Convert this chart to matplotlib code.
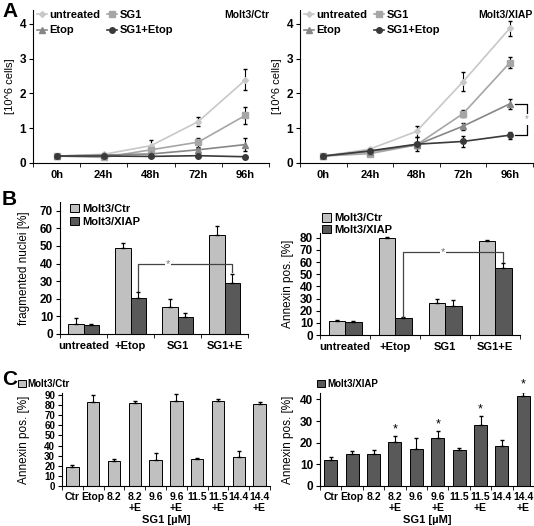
import matplotlib
matplotlib.use("Agg")
import matplotlib.pyplot as plt
from matplotlib.lines import Line2D
import numpy as np

plt.rcParams['font.family'] = ['Liberation Sans', 'DejaVu Sans']
plt.rcParams['font.size'] = 8

W, H = 534, 526

# ---- panel A: growth curves ----
times = ['0h', '24h', '48h', '72h', '96h']
series = ['untreated', 'SG1', 'Etop', 'SG1+Etop']
ctr_vals = [[0.20, 0.25, 0.50, 1.19, 2.39],
            [0.20, 0.16, 0.38, 0.60, 1.37],
            [0.20, 0.23, 0.26, 0.38, 0.53],
            [0.20, 0.20, 0.19, 0.21, 0.18]]
ctr_err = [[0.02, 0.03, 0.15, 0.12, 0.30],
           [0.02, 0.03, 0.08, 0.13, 0.25],
           [0.02, 0.02, 0.05, 0.06, 0.18],
           [0.02, 0.02, 0.02, 0.03, 0.02]]
xiap_vals = [[0.20, 0.40, 0.91, 2.34, 3.87],
             [0.20, 0.27, 0.52, 1.42, 2.88],
             [0.20, 0.33, 0.52, 1.06, 1.70],
             [0.20, 0.35, 0.54, 0.62, 0.80]]
xiap_err = [[0.02, 0.04, 0.15, 0.27, 0.22],
            [0.02, 0.03, 0.08, 0.10, 0.16],
            [0.02, 0.03, 0.06, 0.10, 0.15],
            [0.02, 0.05, 0.20, 0.16, 0.10]]
line_colors = ['#c8c8c8', '#a6a6a6', '#878787', '#3a3a3a']
markers = ['D', 's', '^', 'o']
msizes = [3, 4, 4, 4]

# ---- panel B: fragmented nuclei / annexin ----
groups = ['untreated', '+Etop', 'SG1', 'SG1+E']
frag_ctr = [5.8, 48.8, 15.2, 56.5]
frag_ctr_err = [3.5, 3.0, 4.5, 5.0]
frag_xiap = [5.0, 20.2, 9.8, 29.2]
frag_xiap_err = [0.5, 3.8, 2.2, 5.0]
ann_ctr = [11.5, 79.5, 26.5, 77.8]
ann_ctr_err = [0.6, 1.0, 3.0, 0.8]
ann_xiap = [10.5, 14.0, 23.5, 55.0]
ann_xiap_err = [1.0, 0.6, 5.5, 4.0]

# ---- panel C: dose series ----
doses = ['Ctr', 'Etop', '8.2', '8.2\n+E', '9.6', '9.6\n+E',
         '11.5', '11.5\n+E', '14.4', '14.4\n+E']
c_ctr = [18.5, 83.5, 25.0, 82.2, 26.0, 84.2, 26.5, 84.5, 29.0, 81.5]
c_ctr_err = [2.5, 7.0, 2.0, 1.5, 7.0, 6.5, 1.2, 1.8, 5.5, 1.5]
c_xiap = [12.2, 14.7, 15.0, 20.2, 17.3, 22.0, 16.5, 28.2, 18.5, 41.5]
c_xiap_err = [1.3, 1.6, 1.8, 2.8, 5.0, 3.2, 1.3, 4.0, 2.7, 2.0]
c_star = [3, 5, 7, 9]

LIGHT = '#c0c0c0'
DARK = '#595959'

fig = plt.figure(figsize=(W / 100, H / 100), dpi=100)


def ax_at(x0, x1, ytop, ybot):
    return fig.add_axes([x0 / W, 1 - ybot / H, (x1 - x0) / W, (ybot - ytop) / H])


def style(ax, n, labels, xsize=8, ysize=8.5):
    for s in ['top', 'right']:
        ax.spines[s].set_visible(False)
    ax.set_xlim(-0.5, n - 0.5)
    ax.set_xticks(range(n))
    ax.set_xticklabels(labels, fontweight='bold', fontsize=xsize)
    ax.set_xticks(np.arange(-0.5, n, 1.0), minor=True)
    ax.tick_params(axis='x', which='major', length=0, pad=5)
    ax.tick_params(axis='x', which='minor', length=3, direction='out')
    ax.tick_params(axis='y', length=3, direction='out', pad=2)
    for t in ax.get_yticklabels():
        t.set_fontweight('bold')
        t.set_fontsize(ysize)


def ylab(ax, text, xpos, size=8.5):
    ax.set_ylabel(text, fontsize=size)
    ax.yaxis.set_label_coords(xpos, 0.5)


def growth(ax, vals, errs, title):
    x = np.arange(len(times))
    handles = []
    for i, name in enumerate(series):
        ax.errorbar(x, vals[i], yerr=errs[i], color=line_colors[i], marker=markers[i],
                    ms=msizes[i], lw=1.2, ecolor='black', elinewidth=0.8, capsize=1.2)
        handles.append(Line2D([], [], color=line_colors[i], marker=markers[i],
                              ms=msizes[i], lw=1.2, label=name))
    ax.set_ylim(0, 4.4)
    ax.set_yticks([0, 1, 2, 3, 4])
    style(ax, len(times), times)
    order = [0, 2, 1, 3]
    ax.legend([handles[k] for k in order], [series[k] for k in order],
              loc='upper left', ncol=2, frameon=False, handlelength=0.9,
              handletextpad=0.2, columnspacing=0.6, borderaxespad=0.0, labelspacing=0.5,
              bbox_to_anchor=(0.0, 1.03), prop={'weight': 'bold', 'size': 8})
    ax.text(1.0, 1.0, title, transform=ax.transAxes, ha='right', va='top',
            fontweight='bold', fontsize=7.5)


axA1 = ax_at(33, 269, 10, 163)
growth(axA1, ctr_vals, ctr_err, 'Molt3/Ctr')
ylab(axA1, '[10^6 cells]', -0.076, 8)
axA2 = ax_at(300, 533, 10, 163)
growth(axA2, xiap_vals, xiap_err, 'Molt3/XIAP')
ylab(axA2, '[10^6 cells]', -0.077, 8)
axA2.plot([4.12, 4.37, 4.37, 4.12], [xiap_vals[2][4], xiap_vals[2][4], xiap_vals[3][4], xiap_vals[3][4]],
          color='black', lw=0.9, clip_on=False)
axA2.text(4.37, (xiap_vals[2][4] + xiap_vals[3][4]) / 2, '*', ha='center', va='center',
          fontsize=7, color='#999999', clip_on=False,
          bbox=dict(facecolor='white', edgecolor='none', pad=0.3))


def pair_bars(ax, a, ae, b, be, top, yticks):
    x = np.arange(len(groups))
    w = 0.33
    ax.bar(x - w / 2, a, w, color=LIGHT, edgecolor='black', lw=0.7, label='Molt3/Ctr')
    ax.bar(x + w / 2, b, w, color=DARK, edgecolor='black', lw=0.7, label='Molt3/XIAP')
    ax.errorbar(x - w / 2, a, yerr=[np.zeros(len(a)), ae], fmt='none', ecolor='black',
                elinewidth=0.8, capsize=1.2)
    ax.errorbar(x + w / 2, b, yerr=[np.zeros(len(b)), be], fmt='none', ecolor='black',
                elinewidth=0.8, capsize=1.2)
    ax.set_ylim(0, top)
    ax.set_yticks(yticks)
    style(ax, len(groups), groups)
    return w


axB1 = ax_at(60, 248, 202, 334)
w = pair_bars(axB1, frag_ctr, frag_ctr_err, frag_xiap, frag_xiap_err, 75, range(0, 71, 10))
ylab(axB1, 'fragmented nuclei [%]', -0.16)
axB1.legend(loc='upper left', bbox_to_anchor=(0.03, 1.02), frameon=False, handlelength=0.8,
            handleheight=0.8, handletextpad=0.3, labelspacing=0.25, borderaxespad=0.0,
            prop={'weight': 'bold', 'size': 8})
axB1.plot([1 + w / 2, 1 + w / 2, 3 + w / 2, 3 + w / 2], [24.5, 40, 40, 35],
          color='#444444', lw=0.9)
axB1.text(1.8, 40, '*', ha='center', va='center', fontsize=8, color='#777777',
          bbox=dict(facecolor='white', edgecolor='none', pad=0.5))

axB2 = ax_at(320, 520, 233, 335)
w = pair_bars(axB2, ann_ctr, ann_ctr_err, ann_xiap, ann_xiap_err, 84, range(0, 81, 10))
ylab(axB2, 'Annexin pos. [%]', -0.13)
axB2.legend(loc='lower left', bbox_to_anchor=(-0.01, 0.94), frameon=False, handlelength=0.8,
            handleheight=0.8, handletextpad=0.3, labelspacing=0.1, borderaxespad=0.0,
            prop={'weight': 'bold', 'size': 8})
axB2.plot([1 + w / 2, 1 + w / 2, 3 + w / 2, 3 + w / 2], [14.8, 68.5, 68.5, 60],
          color='#444444', lw=0.9)
axB2.text(1.96, 68.5, '*', ha='center', va='center', fontsize=8, color='#777777',
          bbox=dict(facecolor='white', edgecolor='none', pad=0.5))


def dose_bars(ax, vals, errs, color, name, top, yticks, ysize):
    x = np.arange(len(doses))
    ax.bar(x, vals, 0.6, color=color, edgecolor='black', lw=0.7, label=name)
    ax.errorbar(x, vals, yerr=[np.zeros(len(vals)), errs], fmt='none', ecolor='black',
                elinewidth=0.8, capsize=1.2)
    ax.set_ylim(0, top)
    ax.set_yticks(yticks)
    style(ax, len(doses), doses, xsize=7.5, ysize=ysize)
    ax.tick_params(axis='x', which='major', pad=4)
    ax.set_xlabel('SG1 [\u00b5M]', fontweight='bold', fontsize=8, labelpad=1)
    return x


axC1 = ax_at(62, 270, 393, 486)
dose_bars(axC1, c_ctr, c_ctr_err, LIGHT, 'Molt3/Ctr', 92, range(0, 91, 10), 7)
ylab(axC1, 'Annexin pos. [%]', -0.154)
axC1.legend(loc='lower left', bbox_to_anchor=(-0.23, 1.0), frameon=False, handlelength=0.8,
            handleheight=0.8, handletextpad=0.2, borderaxespad=0.0,
            prop={'weight': 'bold', 'size': 7})

axC2 = ax_at(320, 534, 393, 486)
xc = dose_bars(axC2, c_xiap, c_xiap_err, DARK, 'Molt3/XIAP', 43, range(0, 41, 10), 8.5)
ylab(axC2, 'Annexin pos. [%]', -0.121)
axC2.legend(loc='lower left', bbox_to_anchor=(-0.03, 1.0), frameon=False, handlelength=0.8,
            handleheight=0.8, handletextpad=0.2, borderaxespad=0.0,
            prop={'weight': 'bold', 'size': 7})
for i in c_star:
    axC2.text(xc[i], c_xiap[i] + c_xiap_err[i] + 0.6, '*', ha='center', va='bottom',
              fontsize=9, clip_on=False)

# panel letters
for letter, yy in [('A', 2), ('B', 190), ('C', 370)]:
    fig.text(2 / W, 1 - yy / H, letter, fontsize=15, fontweight='bold', va='top', ha='left')

fig.savefig('out.png', dpi=100)
